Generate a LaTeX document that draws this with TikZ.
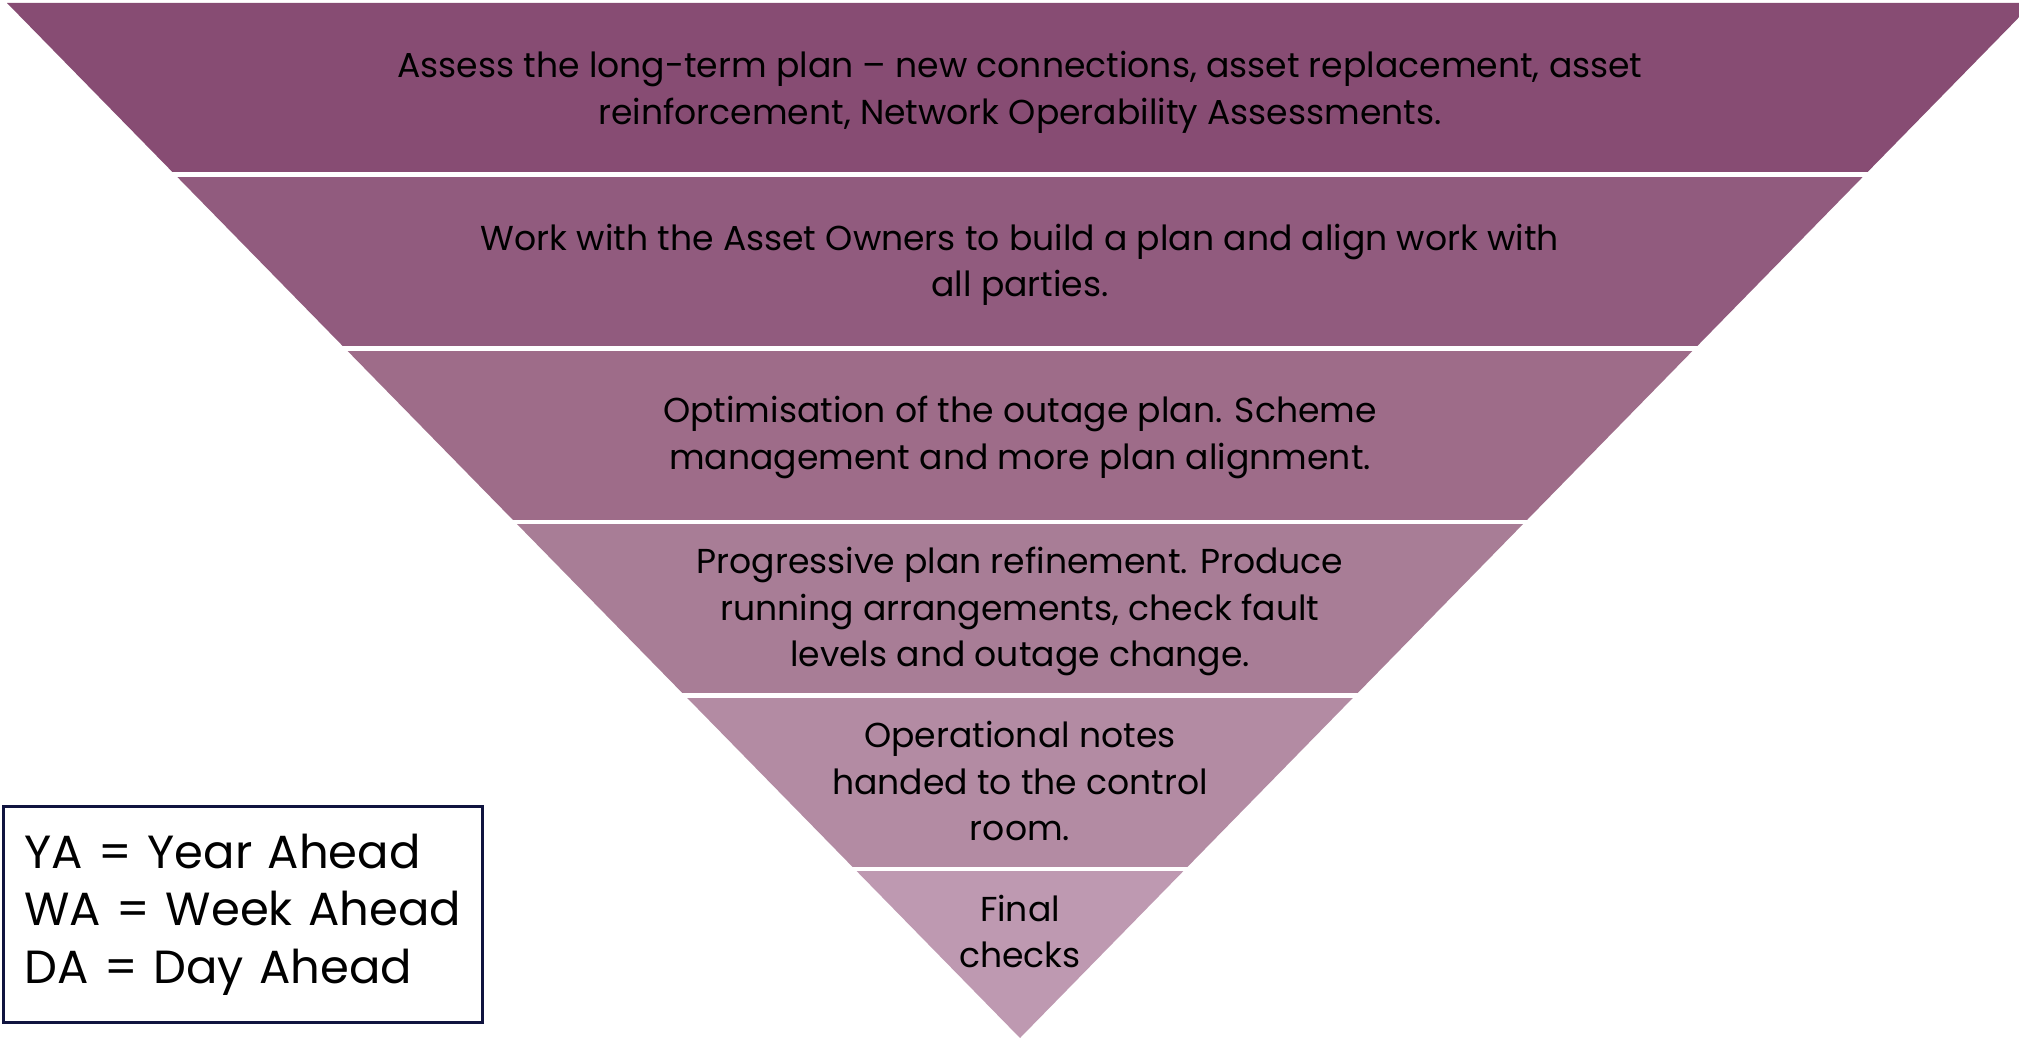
\documentclass[tikz,border=0pt]{standalone}
\usepackage{fontspec}
\setmainfont{Poppins}

% band colours, darkest at the top
\definecolor{bandA}{HTML}{874C73}
\definecolor{bandB}{HTML}{915B7E}
\definecolor{bandC}{HTML}{9E6C89}
\definecolor{bandD}{HTML}{A87D96}
\definecolor{bandE}{HTML}{B38BA3}
\definecolor{bandF}{HTML}{BE99B1}
\definecolor{legendline}{HTML}{10143F}

\begin{document}
\begin{tikzpicture}[x=1pt,y=-1pt,
  bandtext/.style={align=center, text=black, inner sep=0pt,
    font=\fontsize{34.6}{46.5}\selectfont},
  legendbox/.style={draw=legendline, line width=3pt, fill=white,
    anchor=north west, align=left, text width=437pt, inner xsep=21pt,
    inner ysep=0pt, minimum height=216pt,
    font=\fontsize{46.5}{57.5}\selectfont}]
\useasboundingbox (0,0) rectangle (2019,1038);

% inverted triangle, cut into six horizontal bands with white gaps
\coordinate (tl) at (7,3);
\coordinate (tr) at (2033,3);
\coordinate (apex) at (1020,1038);
\begin{scope}
  \clip (tl) -- (tr) -- (apex) -- cycle;
  \fill[bandA] (0,0)     rectangle (2040,172.5);
  \fill[bandB] (0,177)   rectangle (2040,346);
  \fill[bandC] (0,350.5) rectangle (2040,519.5);
  \fill[bandD] (0,524)   rectangle (2040,693);
  \fill[bandE] (0,697.5) rectangle (2040,866.5);
  \fill[bandF] (0,871)   rectangle (2040,1040);
\end{scope}

% band captions
\node[bandtext] (t1) at (1020,92.5) {Assess the long-term plan – new connections, asset replacement, asset\\reinforcement, Network Operability Assessments.};
\node[bandtext] (t2) at (1020,265) {Work with the Asset Owners to build a plan and align work with\\all parties.};
\node[bandtext] (t3) at (1020,437.5) {Optimisation of the outage plan. Scheme\\management and more plan alignment.};
\node[bandtext] (t4) at (1020,611.5) {Progressive plan refinement. Produce\\running arrangements, check fault\\levels and outage change.};
\node[bandtext] (t5) at (1020,781) {Operational notes\\handed to the control\\room.};
\node[bandtext] (t6) at (1020,931.5) {Final\\checks};

% abbreviation key
\node[legendbox] (key) at (2,805) {YA = Year Ahead\\WA = Week Ahead\\DA = Day Ahead};
\end{tikzpicture}
\end{document}
